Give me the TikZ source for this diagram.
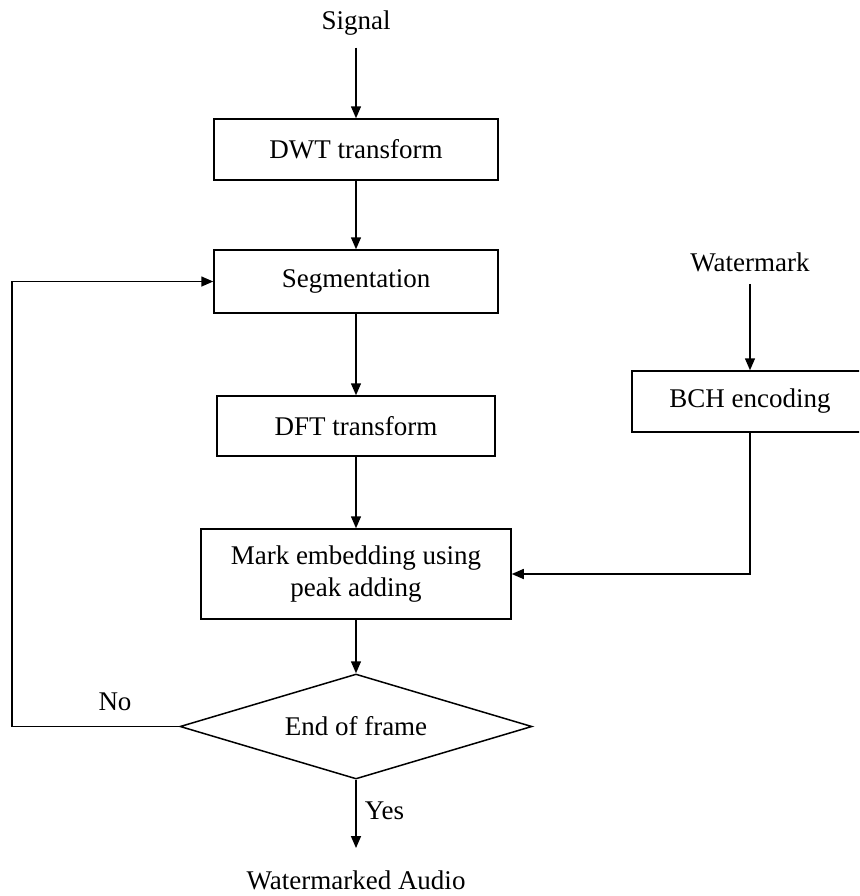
\documentclass[tikz,border=0pt]{standalone}
\usepackage{fontspec}
\setmainfont{Liberation Serif}
\usetikzlibrary{shapes.geometric,arrows.meta,positioning}
\tikzset{
  block/.style={draw,line width=0.75pt,inner sep=0pt,align=center,font=\fontsize{13.5}{16}\selectfont},
  decide/.style={draw,diamond,line width=0.75pt,inner sep=0pt,shape aspect=3.35,
    minimum width=176pt,minimum height=52.5pt,font=\fontsize{13.5}{16}\selectfont},
  plain/.style={inner xsep=0pt,inner ysep=6pt,font=\fontsize{13.5}{16}\selectfont},
  arr/.style={line width=0.75pt,-{Triangle[length=6pt,width=5pt]}},
  line/.style={line width=0.75pt}
}
\begin{document}
\begin{tikzpicture}[x=0.5pt,y=-0.5pt]
\useasboundingbox (0,0) rectangle (859,896);
\clip (0,0) rectangle (859,896);
% main column
\node[plain] (signal) at (356,23) {Signal};
\node[block,minimum width=142pt,minimum height=30.5pt] (dwt) at (356,149.5) {DWT transform};
\node[block,minimum width=142pt,minimum height=31.5pt] (seg) at (356,281.5) {Segmentation};
\node[block,minimum width=139pt,minimum height=30pt] (dft) at (356,426) {DFT transform};
\node[block,minimum width=155pt,minimum height=45pt] (mark) at (356,574) {Mark embedding using\\peak adding};
\node[decide] (frame) at (356,726.5) {End of frame};
\node[plain,inner ysep=11pt] (audio) at (356,880) {Watermarked Audio};

% watermark branch
\node[plain] (wm) at (750,262) {Watermark};
\node[block,minimum width=118pt,minimum height=30.5pt] (bch) at (750,401.5) {BCH encoding};
\coordinate (back) at (12,726.5);

\draw[arr] (signal) -- (dwt);
\draw[arr] (dwt) -- (seg);
\draw[arr] (seg) -- (dft);
\draw[arr] (dft) -- (mark);
\draw[arr] (mark) -- (frame);
\draw[arr] (frame) -- node[right,plain,inner xsep=4pt,pos=0.45] (yes) {Yes} (audio);
\draw[arr] (frame.west) -- (back) |- (seg.west);
\node[plain] (no) at (115,702) {No};
\draw[arr] (wm) -- (bch);
\draw[arr] (bch.south) |- (mark.east);
\end{tikzpicture}
\end{document}
